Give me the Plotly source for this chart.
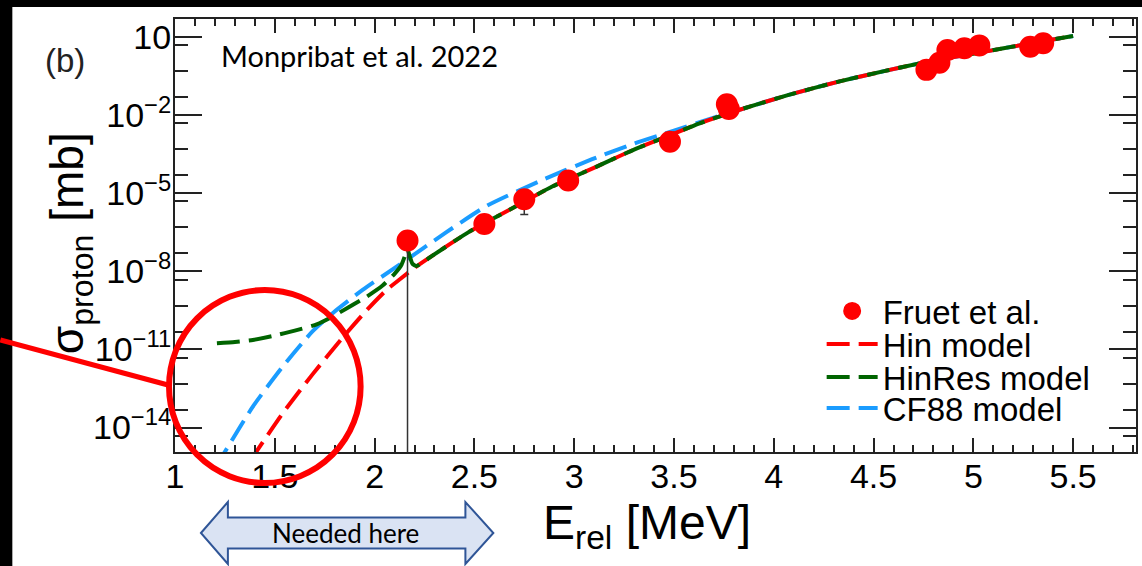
import plotly.graph_objects as go

# ---------------- data ----------------
E_hin = [1.20, 1.30, 1.41, 1.54, 1.69, 1.84, 1.96, 2.06, 2.125, 2.20, 2.29, 2.475, 2.69, 2.89,
         3.11, 3.30, 3.50, 3.625, 3.825, 4.075, 4.325, 4.558, 4.758, 5.00, 5.29, 5.50]
sig_hin = [4.5e-18, 7.1e-17, 1.26e-15, 3.55e-14, 1.12e-12, 2.82e-11, 3.16e-10, 1.91e-9, 4.79e-9,
           1.35e-8, 3.98e-8, 3.31e-7, 2.63e-6, 1.78e-5, 1.02e-4, 4.68e-4, 1.91e-3, 4.68e-3,
           1.55e-2, 5.89e-2, 0.191, 0.490, 1.05, 2.24, 5.62, 10.7]

E_hinres = [1.21, 1.30, 1.39, 1.50, 1.60, 1.71, 1.79, 1.87, 1.96, 2.04, 2.10, 2.135, 2.155, 2.165,
            2.175, 2.19, 2.21, 2.25, 2.29, 2.475, 2.69, 2.89, 3.11, 3.30, 3.50, 3.625, 3.825,
            4.075, 4.325, 4.558, 4.758, 5.00, 5.29, 5.50]
sig_hinres = [1.70e-11, 1.91e-11, 2.29e-11, 3.39e-11, 5.25e-11, 9.12e-11, 1.82e-10, 4.17e-10,
              1.05e-9, 2.82e-9, 7.94e-9, 1.78e-8, 4.47e-8, 7.08e-8, 3.98e-8, 1.91e-8, 1.58e-8,
              2.40e-8, 3.98e-8, 3.31e-7, 2.63e-6, 1.78e-5, 1.02e-4, 4.68e-4, 1.91e-3, 4.68e-3,
              1.55e-2, 5.89e-2, 0.191, 0.490, 1.05, 2.24, 5.62, 10.7]

E_cf88 = [1.20, 1.25, 1.39, 1.54, 1.69, 1.79, 1.94, 2.125, 2.36, 2.56, 2.825, 3.09, 3.30, 3.50,
          3.70, 3.825, 4.075, 4.325, 4.558, 4.758, 5.00, 5.29, 5.50]
sig_cf88 = [2.82e-16, 1.17e-15, 6.31e-14, 2.19e-12, 5.01e-11, 2.45e-10, 1.91e-9, 1.78e-8, 3.16e-7,
            3.16e-6, 2.82e-5, 2.00e-4, 7.94e-4, 2.51e-3, 7.94e-3, 1.55e-2, 5.89e-2, 0.191, 0.490,
            1.05, 2.24, 5.62, 10.7]

E_fruet = [2.165, 2.55, 2.75, 2.97, 3.48, 3.765, 3.775, 4.765, 4.83, 4.87, 4.955, 5.03, 5.285, 5.35]
sig_fruet = [1.51e-7, 6.46e-7, 5.75e-6, 3.02e-5, 9.33e-4, 2.57e-2, 1.70e-2, 0.537, 1.0, 3.09,
             3.63, 4.68, 4.17, 5.62]
err_up_fruet = [0] * 14
err_dn_fruet = [1.51e-7 - 1e-18, 0, 4.24e-6, 0, 0, 0, 0, 0, 0, 0, 0, 0, 0, 0]

x_major = [1, 1.5, 2, 2.5, 3, 3.5, 4, 4.5, 5, 5.5]
x_major_text = ["1", "1.5", "2", "2.5", "3", "3.5", "4", "4.5", "5", "5.5"]
x_minor = [1.1, 1.2, 1.3, 1.4, 1.6, 1.7, 1.8, 1.9, 2.1, 2.2, 2.3, 2.4, 2.6, 2.7, 2.8, 2.9,
           3.1, 3.2, 3.3, 3.4, 3.6, 3.7, 3.8, 3.9, 4.1, 4.2, 4.3, 4.4, 4.6, 4.7, 4.8, 4.9,
           5.1, 5.2, 5.3, 5.4, 5.6, 5.7, 5.8]
y_labeled = [1e1, 1e-2, 1e-5, 1e-8, 1e-11, 1e-14]
y_labeled_text = ["10", "10<sup>\u22122</sup>", "10<sup>\u22125</sup>", "10<sup>\u22128</sup>",
                  "10<sup>\u221211</sup>", "10<sup>\u221214</sup>"]
y_unlabeled = [1e0, 1e-1, 1e-3, 1e-4, 1e-6, 1e-7, 1e-9, 1e-10, 1e-12, 1e-13]
y_minor = [4.8, 0.48, 4.8e-2, 4.8e-3, 4.8e-4, 4.8e-5, 4.8e-6, 4.8e-7, 4.8e-8, 4.8e-9, 4.8e-10,
           4.8e-11, 4.8e-12, 4.8e-13, 4.8e-14, 4.8e-15]

# ---------------- layout helpers (pixel -> paper) ----------------
W, H = 1142, 566
L, R, T, B = 175, 1138, 19, 452
Y_RANGE = [-14.94, 1.683]


def px(x):
    return (x - L) / (R - L)


def py(y):
    return (B - y) / (B - T)


RED, GREEN, BLUE = "#ff0000", "#006400", "#1a9cff"
DASH = "23px,9px"
FONT = "Liberation Sans, Arial, sans-serif"

fig = go.Figure()
fig.add_trace(go.Scatter(x=E_cf88, y=sig_cf88, mode="lines", name="CF88 model", legend="legend4",
                         line=dict(color=BLUE, width=4, dash=DASH, shape="spline", smoothing=0.6)))
fig.add_trace(go.Scatter(x=E_hin, y=sig_hin, mode="lines", name="Hin model", legend="legend2",
                         line=dict(color=RED, width=4, dash=DASH, shape="spline", smoothing=0.6)))
fig.add_trace(go.Scatter(x=E_hinres, y=sig_hinres, mode="lines", name="HinRes model", legend="legend3",
                         line=dict(color=GREEN, width=4, dash=DASH, shape="spline", smoothing=0.5)))
fig.add_trace(go.Scatter(x=E_fruet, y=sig_fruet, mode="markers", name="Fruet et al.", legend="legend",
                         marker=dict(color=RED, size=20, line=dict(color=RED, width=2)),
                         error_y=dict(type="data", symmetric=False, array=err_up_fruet,
                                      arrayminus=err_dn_fruet, color="#333", thickness=1.5, width=4)))

axis_common = dict(showline=True, linecolor="#222", linewidth=2, mirror="ticks", ticks="inside",
                   tickcolor="#222", tickwidth=2, showgrid=False, zeroline=False,
                   tickfont=dict(family=FONT, size=34, color="black"))

fig.update_layout(
    width=W, height=H,
    margin=dict(l=L, r=W - R, t=T, b=H - B),
    paper_bgcolor="white", plot_bgcolor="white",
    xaxis=dict(range=[1, 1 + (R - L) / 200.0], tickmode="array", tickvals=x_major,
               ticktext=x_major_text, ticklen=14, ticklabelstandoff=-7,
               minor=dict(tickvals=x_minor, ticklen=7, ticks="inside", tickcolor="#222", tickwidth=2),
               **axis_common),
    yaxis=dict(type="log", range=Y_RANGE, tickmode="array", tickvals=y_labeled,
               ticktext=y_labeled_text, ticklen=27, ticklabelstandoff=-5,
               minor=dict(tickvals=y_minor, ticklen=13, ticks="inside", tickcolor="#222", tickwidth=2),
               **axis_common),
    yaxis2=dict(type="log", range=Y_RANGE, overlaying="y", side="left", tickmode="array",
                tickvals=y_unlabeled, showticklabels=False, ticks="inside", ticklen=27, tickwidth=2,
                tickcolor="#222", mirror="ticks", showline=False, showgrid=False, zeroline=False),
    showlegend=True,
)

leg_common = dict(xanchor="left", yanchor="middle", bgcolor="rgba(0,0,0,0)", borderwidth=0,
                  font=dict(family=FONT, size=33, color="black"), itemwidth=51)
fig.update_layout(
    legend=dict(x=px(823), y=py(311), **leg_common),
    legend2=dict(x=px(823), y=py(344), **leg_common),
    legend3=dict(x=px(823), y=py(377), **leg_common),
    legend4=dict(x=px(823), y=py(408), **leg_common),
)

shapes = []
# black frame strips of the screenshot
shapes.append(dict(type="rect", xref="paper", yref="paper", x0=px(-5), x1=px(W + 5), y0=py(7), y1=py(-5),
                   fillcolor="black", line=dict(width=0), layer="above"))
shapes.append(dict(type="rect", xref="paper", yref="paper", x0=px(-5), x1=px(12), y0=py(H + 5), y1=py(-5),
                   fillcolor="black", line=dict(width=0), layer="above"))
# red highlight circle and pointer line
shapes.append(dict(type="circle", xref="paper", yref="paper", x0=px(169), x1=px(361), y0=py(483), y1=py(290),
                   line=dict(color=RED, width=6), fillcolor="rgba(0,0,0,0)", layer="above"))
shapes.append(dict(type="line", xref="paper", yref="paper", x0=px(0), y0=py(340), x1=px(168), y1=py(385),
                   line=dict(color=RED, width=5), layer="above"))
# double arrow
pts = [(201, 533), (228, 502), (228, 517.5), (466, 517.5), (466, 502), (494, 533), (466, 564),
       (466, 548.5), (228, 548.5), (228, 564)]
path = "M " + " L ".join(f"{px(a):.5f},{py(b):.5f}" for a, b in pts) + " Z"
shapes.append(dict(type="path", xref="paper", yref="paper", path=path, fillcolor="#dae3f3",
                   line=dict(color="#2f5597", width=2), layer="above"))
fig.update_layout(shapes=shapes)

# axis titles
fig.add_annotation(x=px(648), y=py(526), xref="paper", yref="paper", text="E<sub>rel</sub> [MeV]",
                   showarrow=False, xanchor="center", yanchor="middle",
                   font=dict(family=FONT, size=48, color="black"))
fig.add_annotation(x=px(70), y=py(243), xref="paper", yref="paper", text="\u03c3<sub>proton</sub> [mb]",
                   showarrow=False, xanchor="center", yanchor="middle", textangle=-90,
                   font=dict(family=FONT, size=46, color="black"))

fig.add_annotation(x=px(346), y=py(533), xref="paper", yref="paper", text="Needed here", showarrow=False,
                   xanchor="center", yanchor="middle", font=dict(family="Lato", size=26, color="black"))
fig.add_annotation(x=px(219), y=py(55), xref="paper", yref="paper", text="Monpribat et al. 2022",
                   showarrow=False, xanchor="left", yanchor="middle",
                   font=dict(family="Lato", size=29, color="black"))
fig.add_annotation(x=px(65), y=py(61), xref="paper", yref="paper", text="(b)", showarrow=False,
                   xanchor="center", yanchor="middle", font=dict(family=FONT, size=33, color="#222"))

fig.write_html("out.html", config={"displayModeBar": False},
               post_script="document.body.style.margin='0px';document.body.style.overflow='hidden';")
